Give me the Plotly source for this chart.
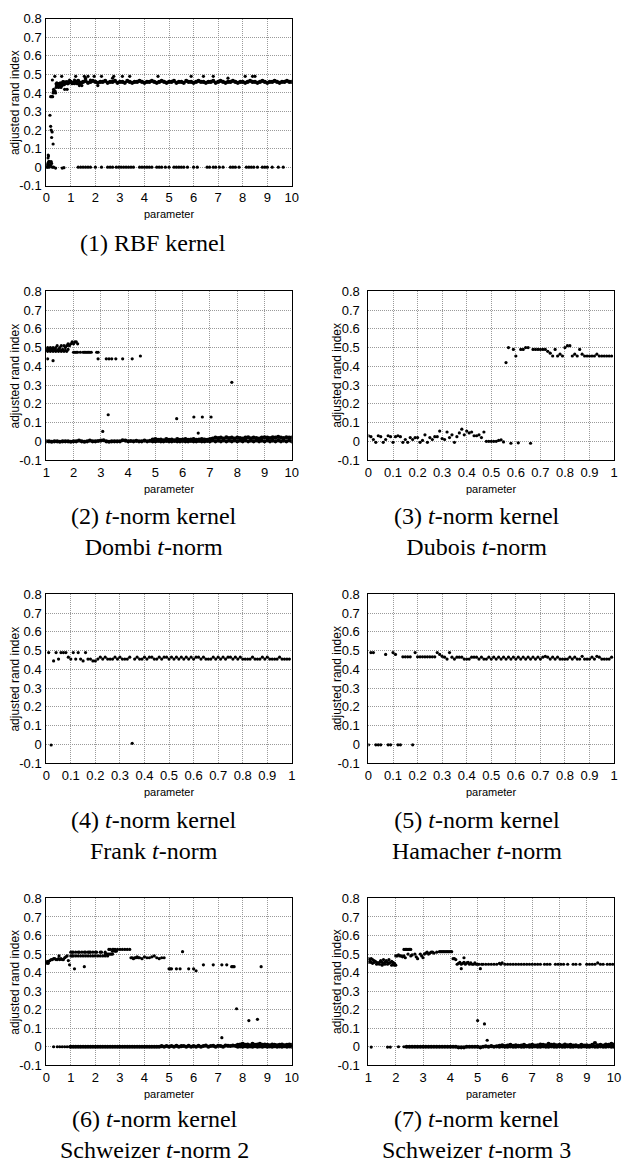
import plotly.graph_objects as go

# ---------------- shared parameter grids ----------------
PARAM_GRID = [1.0, 1.1, 1.2, 1.3, 1.4, 1.5, 1.6, 1.7, 1.8, 1.9,
              2.0, 2.1, 2.2, 2.3, 2.4, 2.5, 2.6, 2.7, 2.8, 2.9,
              3.0, 3.1, 3.2, 3.3, 3.4, 3.5, 3.6, 3.7, 3.8, 3.9,
              4.0, 4.1, 4.2, 4.3, 4.4, 4.5, 4.6, 4.7, 4.8, 4.9,
              5.0, 5.1, 5.2, 5.3, 5.4, 5.5, 5.6, 5.7, 5.8, 5.9,
              6.0, 6.1, 6.2, 6.3, 6.4, 6.5, 6.6, 6.7, 6.8, 6.9,
              7.0, 7.1, 7.2, 7.3, 7.4, 7.5, 7.6, 7.7, 7.8, 7.9,
              8.0, 8.1, 8.2, 8.3, 8.4, 8.5, 8.6, 8.7, 8.8, 8.9,
              9.0, 9.1, 9.2, 9.3, 9.4, 9.5, 9.6, 9.7, 9.8, 9.9,
              10.0]
UNIT_GRID = [0.00, 0.01, 0.02, 0.03, 0.04, 0.05, 0.06, 0.07, 0.08, 0.09,
             0.10, 0.11, 0.12, 0.13, 0.14, 0.15, 0.16, 0.17, 0.18, 0.19,
             0.20, 0.21, 0.22, 0.23, 0.24, 0.25, 0.26, 0.27, 0.28, 0.29,
             0.30, 0.31, 0.32, 0.33, 0.34, 0.35, 0.36, 0.37, 0.38, 0.39,
             0.40, 0.41, 0.42, 0.43, 0.44, 0.45, 0.46, 0.47, 0.48, 0.49,
             0.50, 0.51, 0.52, 0.53, 0.54, 0.55, 0.56, 0.57, 0.58, 0.59,
             0.60, 0.61, 0.62, 0.63, 0.64, 0.65, 0.66, 0.67, 0.68, 0.69,
             0.70, 0.71, 0.72, 0.73, 0.74, 0.75, 0.76, 0.77, 0.78, 0.79,
             0.80, 0.81, 0.82, 0.83, 0.84, 0.85, 0.86, 0.87, 0.88, 0.89,
             0.90, 0.91, 0.92, 0.93, 0.94, 0.95, 0.96, 0.97, 0.98, 0.99]

Y_TICKS = [-0.1, 0.0, 0.1, 0.2, 0.3, 0.4, 0.5, 0.6, 0.7, 0.8]
Y_TICK_TEXT = ["-0.1", "0", "0.1", "0.2", "0.3", "0.4", "0.5", "0.6", "0.7", "0.8"]

# ---------------- (1) RBF kernel ----------------
p1_low_x = [0.02, 0.04, 0.05, 0.06, 0.07, 0.08, 0.09, 0.10, 0.11, 0.12,
            0.13, 0.15, 0.17, 0.20, 0.22, 0.25, 0.30, 0.38, 0.65, 0.72]
p1_low_y = [0.00, 0.01, 0.00, 0.02, 0.05, 0.065, 0.06, 0.03, 0.01, 0.00,
            0.03, 0.025, 0.01, 0.03, 0.02, 0.00, 0.00, -0.005, -0.005, -0.003]
p1_rise_x = [0.15, 0.18, 0.20, 0.22, 0.24, 0.28, 0.18, 0.22, 0.26, 0.28,
             0.30, 0.33, 0.36, 0.38, 0.25, 0.35, 0.30, 0.40, 0.42, 0.45,
             0.48, 0.50, 0.53, 0.55, 0.58, 0.60, 0.63, 0.65, 0.68, 0.70,
             0.72, 0.75, 0.78, 0.80, 0.85, 0.88, 0.90, 0.95, 1.05, 1.15,
             1.20, 1.25, 1.35, 1.45, 1.55, 1.60, 1.70, 1.80, 1.95, 2.10,
             2.25, 2.70, 2.75, 3.10, 3.40, 4.55, 5.90, 6.40, 6.80, 7.40,
             8.10, 8.40, 8.50]
p1_rise_y = [0.28, 0.22, 0.20, 0.16, 0.19, 0.125, 0.38, 0.38, 0.38, 0.40,
             0.41, 0.405, 0.41, 0.40, 0.47, 0.49, 0.42, 0.43, 0.44, 0.45,
             0.44, 0.43, 0.45, 0.44, 0.45, 0.43, 0.49, 0.44, 0.46, 0.45,
             0.46, 0.42, 0.45, 0.46, 0.42, 0.45, 0.46, 0.47, 0.45, 0.47,
             0.49, 0.45, 0.44, 0.44, 0.49, 0.48, 0.49, 0.47, 0.49, 0.44,
             0.49, 0.48, 0.49, 0.49, 0.49, 0.49, 0.49, 0.49, 0.49, 0.48,
             0.49, 0.49, 0.49]
p1_knee_x = [0.40, 0.45, 0.50, 0.55, 0.60, 0.65, 0.70, 0.75, 0.80, 0.85,
             0.90, 0.95, 0.43, 0.47, 0.52, 0.57, 0.62, 0.67, 0.73, 0.78,
             0.83, 0.88, 0.93, 0.98, 1.05, 1.15, 1.25, 1.35, 1.45]
p1_knee_y = [0.45, 0.44, 0.45, 0.45, 0.44, 0.45, 0.46, 0.45, 0.455, 0.46,
             0.455, 0.46, 0.455, 0.45, 0.44, 0.455, 0.45, 0.46, 0.445, 0.455,
             0.46, 0.45, 0.455, 0.46, 0.455, 0.45, 0.455, 0.45, 0.455]
p1_band_y = [0.46, 0.455, 0.46, 0.465, 0.455, 0.46, 0.465, 0.455, 0.46, 0.465,
             0.46, 0.455, 0.46, 0.46, 0.465, 0.455, 0.46, 0.46, 0.465, 0.455,
             0.46, 0.46, 0.455, 0.465, 0.46, 0.455, 0.46, 0.46, 0.465, 0.46,
             0.455, 0.46, 0.46, 0.465, 0.46, 0.455, 0.46, 0.465, 0.46, 0.455,
             0.46, 0.46, 0.465, 0.455, 0.46, 0.46, 0.455, 0.465, 0.46, 0.46,
             0.455, 0.46, 0.465, 0.46, 0.46, 0.455, 0.46, 0.46, 0.465, 0.455,
             0.46, 0.465, 0.46, 0.455, 0.46, 0.46, 0.465, 0.46, 0.455, 0.46,
             0.46, 0.455, 0.46, 0.465, 0.46, 0.46, 0.455, 0.46, 0.465, 0.46,
             0.455, 0.46, 0.46, 0.465, 0.46, 0.455, 0.46, 0.46, 0.465, 0.46,
             0.46]
p1_zero_x = [1.3, 1.4, 1.5, 1.6, 1.7, 1.8, 2.0, 2.25, 2.5, 2.6,
             2.7, 2.85, 2.95, 3.05, 3.15, 3.25, 3.35, 3.45, 3.55, 3.8,
             3.9, 4.0, 4.1, 4.2, 4.3, 4.5, 4.6, 4.7, 4.85, 5.0,
             5.2, 5.3, 5.4, 5.5, 5.6, 5.75, 6.0, 6.15, 6.55, 6.65,
             6.8, 6.9, 7.05, 7.2, 7.5, 7.6, 7.7, 7.85, 8.15, 8.25,
             8.35, 8.45, 8.6, 8.8, 8.9, 9.0, 9.2, 9.45, 9.65]
p1_zero_y = [0.0, 0.0, 0.0, 0.0, 0.0, 0.0, 0.0, 0.0, 0.0, 0.0,
             0.0, 0.0, 0.0, 0.0, 0.0, 0.0, 0.0, 0.0, 0.0, 0.0,
             0.0, 0.0, 0.0, 0.0, 0.0, 0.0, 0.0, 0.0, 0.0, 0.0,
             0.0, 0.0, 0.0, 0.0, 0.0, 0.0, 0.0, 0.0, 0.0, 0.0,
             0.0, 0.0, 0.0, 0.0, 0.0, 0.0, 0.0, 0.0, 0.0, 0.0,
             0.0, 0.0, 0.0, 0.0, 0.0, 0.0, 0.0, 0.0, 0.0]

# ---------------- (2) Dombi t-norm ----------------
p2_top_x = [1.00, 1.05, 1.10, 1.15, 1.20, 1.25, 1.30, 1.35, 1.40, 1.45,
            1.50, 1.55, 1.60, 1.65, 1.70, 1.75, 1.80, 1.85, 1.90, 1.95,
            2.00, 2.05, 2.10, 2.15, 1.00, 1.05, 1.10, 1.15, 1.20, 1.25,
            1.30, 1.35, 1.40, 1.45, 1.50, 1.55, 1.60, 1.65, 1.70, 1.75,
            1.80, 2.00, 2.05, 2.10, 2.15, 2.25, 2.35, 2.40, 2.45, 2.50,
            2.55, 2.60, 2.65, 2.85, 2.90]
p2_top_y = [0.49, 0.50, 0.49, 0.50, 0.49, 0.50, 0.49, 0.50, 0.51, 0.49,
            0.50, 0.51, 0.49, 0.51, 0.50, 0.51, 0.52, 0.51, 0.52, 0.53,
            0.52, 0.53, 0.53, 0.52, 0.485, 0.48, 0.485, 0.48, 0.485, 0.48,
            0.485, 0.48, 0.485, 0.48, 0.485, 0.48, 0.485, 0.48, 0.485, 0.48,
            0.49, 0.475, 0.475, 0.475, 0.475, 0.475, 0.475, 0.475, 0.475, 0.475,
            0.475, 0.475, 0.475, 0.475, 0.475]
p2_mid_x = [1.05, 1.25, 2.90, 3.20, 3.30, 3.40, 3.55, 3.80, 4.15, 4.45]
p2_mid_y = [0.44, 0.43, 0.44, 0.44, 0.44, 0.44, 0.44, 0.44, 0.44, 0.455]
p2_out_x = [3.07, 3.27, 5.78, 6.41, 6.57, 6.72, 7.04, 7.80]
p2_out_y = [0.053, 0.142, 0.121, 0.13, 0.044, 0.13, 0.13, 0.315]
p2_base_y = [0.0, 0.0, -0.002, 0.0, 0.0, -0.002, 0.0, 0.0, 0.0, -0.002,
             0.0, 0.0, 0.004, 0.0, -0.002, 0.0, 0.004, 0.0, 0.0, 0.002,
             0.004, 0.006, 0.0, -0.002, 0.0, 0.0, 0.0, 0.0, 0.006, 0.004,
             0.0, 0.002, 0.0, 0.003, 0.0, 0.0, 0.004, 0.0, 0.003, 0.01,
             0.012, 0.008, 0.01, 0.005, 0.012, 0.008, 0.01, 0.006, 0.012, 0.008,
             0.01, 0.012, 0.008, 0.01, 0.012, 0.008, 0.01, 0.012, 0.01, 0.008,
             0.012, 0.015, 0.02, 0.018, 0.02, 0.015, 0.022, 0.018, 0.02, 0.015,
             0.02, 0.018, 0.015, 0.02, 0.022, 0.016, 0.02, 0.018, 0.015, 0.02,
             0.022, 0.02, 0.018, 0.022, 0.02, 0.024, 0.02, 0.018, 0.022, 0.02,
             0.02]
p2_base2_y = [0.0, 0.0, 0.002, 0.0, 0.0, 0.002, 0.0, 0.0, 0.002, 0.0,
              0.0, 0.002, 0.0, 0.0, 0.002, 0.0, 0.0, 0.002, 0.0, 0.0,
              0.002, 0.0, 0.005, 0.0, 0.004, 0.0, 0.005, 0.0, 0.004, 0.0,
              0.005, 0.0, 0.004, 0.0, 0.005, 0.0, 0.004, 0.0, 0.005, 0.0,
              0.004, 0.0, 0.005, 0.0, 0.004, 0.0, 0.005, 0.0, 0.004, 0.0,
              0.005, 0.0]

# ---------------- (3) Dubois t-norm ----------------
p3_low_y = [0.03, 0.025, 0.01, -0.005, 0.03, 0.025, -0.005, 0.01, 0.03, 0.025,
            -0.005, 0.025, 0.03, 0.025, -0.005, 0.01, -0.005, 0.02, 0.01, 0.02,
            0.02, -0.005, 0.005, 0.035, -0.005, 0.02, 0.01, 0.025, 0.025, 0.055,
            0.015, 0.01, 0.05, 0.02, 0.035, -0.005, 0.025, 0.045, 0.065, 0.035,
            0.055, 0.045, 0.05, 0.03, 0.03, 0.035, 0.02, 0.05]
p3_flat_y = [0.0, 0.0, 0.0, 0.0, 0.0, 0.005, 0.008, -0.003]
p3_dip_x = [0.58, 0.61, 0.66]
p3_dip_y = [-0.01, -0.008, -0.01]
p3_up_x = [0.56, 0.57, 0.59, 0.60, 0.62, 0.63, 0.64, 0.65,
           0.67, 0.68, 0.69, 0.70, 0.71, 0.72, 0.73, 0.74, 0.75, 0.76,
           0.77, 0.78, 0.79, 0.80, 0.81, 0.82, 0.83, 0.84, 0.85, 0.86,
           0.87, 0.88, 0.89, 0.90, 0.91, 0.92, 0.93, 0.94, 0.95, 0.96,
           0.97, 0.98, 0.99]
p3_up_y = [0.42, 0.50, 0.49, 0.455, 0.49, 0.49, 0.50, 0.50,
           0.49, 0.49, 0.49, 0.49, 0.49, 0.49, 0.48, 0.47, 0.455, 0.49,
           0.455, 0.465, 0.455, 0.50, 0.51, 0.51, 0.455, 0.465, 0.455, 0.49,
           0.465, 0.455, 0.455, 0.455, 0.455, 0.455, 0.465, 0.455, 0.455, 0.455,
           0.455, 0.455, 0.455]

# ---------------- (4) Frank t-norm ----------------
p4_y = [0.49, -0.003, 0.445, 0.49, 0.455, 0.49, 0.49, 0.49, 0.465, 0.455,
        0.49, 0.455, 0.49, 0.455, 0.445, 0.49, 0.455, 0.455, 0.445, 0.445,
        0.455, 0.465, 0.455, 0.465, 0.455, 0.455, 0.455, 0.465, 0.455, 0.465,
        0.455, 0.455, 0.455, 0.465, 0.006, 0.455, 0.465, 0.455, 0.455, 0.465,
        0.455, 0.465, 0.465, 0.455, 0.455, 0.465, 0.455, 0.465, 0.465, 0.455,
        0.465, 0.455, 0.465, 0.455, 0.465, 0.455, 0.465, 0.455, 0.465, 0.455,
        0.465, 0.465, 0.455, 0.465, 0.455, 0.455, 0.455, 0.465, 0.455, 0.465,
        0.455, 0.465, 0.455, 0.465, 0.465, 0.455, 0.465, 0.455, 0.465, 0.455,
        0.455, 0.455, 0.455, 0.465, 0.455, 0.455, 0.455, 0.465, 0.455, 0.465,
        0.455, 0.455, 0.455, 0.455, 0.465, 0.455, 0.455, 0.455, 0.455]

# ---------------- (5) Hamacher t-norm ----------------
p5_y = [-0.002, 0.49, 0.49, -0.002, -0.002, -0.002,
        0.48, -0.002, -0.002, 0.49, 0.48, -0.002, -0.002, 0.467, 0.467, 0.467,
        0.467, -0.002, 0.49, 0.467, 0.467, 0.467, 0.467, 0.467, 0.467, 0.467,
        0.467, 0.49, 0.48, 0.47, 0.465, 0.455, 0.49, 0.465, 0.455, 0.465,
        0.465, 0.465, 0.455, 0.455, 0.455, 0.465, 0.465, 0.465, 0.455, 0.465,
        0.455, 0.455, 0.465, 0.455, 0.465, 0.455, 0.465, 0.455, 0.465, 0.455,
        0.465, 0.455, 0.465, 0.455, 0.465, 0.455, 0.465, 0.455, 0.465, 0.455,
        0.465, 0.455, 0.465, 0.455, 0.465, 0.47, 0.465, 0.455, 0.465, 0.455,
        0.465, 0.455, 0.455, 0.455, 0.455, 0.465, 0.455, 0.465, 0.455, 0.455,
        0.47, 0.455, 0.455, 0.455, 0.465, 0.455, 0.47, 0.465, 0.455, 0.455,
        0.455, 0.455, 0.465]

# ---------------- (6) Schweizer t-norm 2 ----------------
p6_top_x = [0.00, 0.02, 0.03, 0.06, 0.08, 0.10, 0.15, 0.20, 0.25, 0.30,
            0.35, 0.40, 0.45, 0.50, 0.55, 0.60, 0.65, 0.70, 0.52, 0.75,
            0.80, 0.85, 0.90, 0.95, 1.00, 1.15, 1.55, 1.00, 1.05, 1.10,
            1.20, 1.30, 1.35, 1.45, 1.55, 1.60, 1.70, 1.75, 1.80, 1.90,
            2.00, 2.05, 2.20, 2.25, 2.40, 1.05, 1.10, 1.20, 1.30, 1.40,
            1.50, 1.60, 1.70, 1.80, 1.90, 2.00, 2.10, 2.20, 2.30, 2.40,
            2.50, 2.40, 2.45, 2.50, 2.55, 2.60, 2.65, 2.70, 2.55, 2.60,
            2.70, 2.75, 2.80, 2.90, 3.00, 3.10, 3.20, 3.30, 3.40, 2.70,
            2.80, 2.85, 3.45, 3.50, 3.55, 3.60, 3.65, 3.70, 3.75, 3.80,
            3.90, 4.00, 4.10, 4.20, 4.30, 4.50, 4.60, 4.70, 4.80, 4.40,
            5.55, 5.00, 5.05, 5.10, 5.30, 5.45, 5.80, 6.00, 6.10, 6.40,
            6.80, 7.15, 7.35, 7.55, 7.60, 7.65, 8.75, 7.75, 8.25, 8.60,
            7.15]
p6_top_y = [0.455, 0.45, 0.46, 0.455, 0.45, 0.46, 0.465, 0.47, 0.47, 0.475,
            0.475, 0.47, 0.47, 0.475, 0.47, 0.475, 0.47, 0.47, 0.49, 0.48,
            0.485, 0.49, 0.465, 0.442, 0.49, 0.42, 0.432, 0.51, 0.51, 0.51,
            0.51, 0.51, 0.51, 0.51, 0.51, 0.51, 0.51, 0.51, 0.51, 0.51,
            0.51, 0.51, 0.51, 0.51, 0.51, 0.49, 0.49, 0.49, 0.49, 0.49,
            0.49, 0.49, 0.49, 0.49, 0.49, 0.49, 0.49, 0.49, 0.49, 0.49,
            0.49, 0.50, 0.50, 0.50, 0.50, 0.50, 0.50, 0.50, 0.525, 0.525,
            0.525, 0.525, 0.525, 0.525, 0.525, 0.525, 0.525, 0.525, 0.525, 0.515,
            0.515, 0.515, 0.48, 0.48, 0.475, 0.48, 0.48, 0.485, 0.48, 0.48,
            0.475, 0.485, 0.48, 0.48, 0.485, 0.48, 0.475, 0.48, 0.48, 0.49,
            0.513, 0.42, 0.42, 0.42, 0.42, 0.42, 0.42, 0.42, 0.41, 0.442,
            0.442, 0.442, 0.442, 0.432, 0.432, 0.432, 0.432, 0.205, 0.141, 0.148,
            0.049]
p6_head_x = [0.30, 0.45, 0.55, 0.65, 0.75, 0.85, 0.95]
p6_head_y = [0.0, 0.0, 0.0, 0.0, 0.0, 0.0, 0.0]
p6_base_y = [0.0, 0.0, 0.0, 0.0, 0.0, 0.0, 0.0, 0.0, 0.0, 0.0,
             0.0, 0.0, 0.0, 0.0, 0.0, 0.0, 0.0, 0.0, 0.0, 0.0,
             0.0, 0.0, 0.0, 0.0, 0.0, 0.0, 0.0, 0.0, 0.0, 0.0,
             0.0, 0.0, 0.0, 0.0, 0.0, 0.0, 0.0, 0.003, 0.0, 0.004,
             0.0, 0.004, 0.0, 0.005, 0.0, 0.003, 0.004, 0.0, 0.005, 0.0,
             0.004, 0.0, 0.005, 0.0, 0.004, 0.006, 0.0, 0.004, 0.005, 0.0,
             0.005, 0.004, 0.0, 0.006, 0.005, 0.004, 0.006, 0.005, 0.01, 0.012,
             0.015, 0.01, 0.012, 0.008, 0.015, 0.01, 0.012, 0.015, 0.01, 0.012,
             0.01, 0.008, 0.012, 0.01, 0.008, 0.01, 0.012, 0.008, 0.01, 0.012,
             0.01]
p6_base2_y = [0.0, 0.002, 0.0, 0.003, 0.0, 0.002, 0.0, 0.003, 0.0, 0.002,
              0.0, 0.003, 0.0, 0.002, 0.0, 0.003, 0.0, 0.002, 0.0, 0.003,
              0.0, 0.002, 0.0]

# ---------------- (7) Schweizer t-norm 3 ----------------
p7_top_x = [1.00, 1.05, 1.10, 1.15, 1.20, 1.25, 1.30, 1.35, 1.40, 1.45,
            1.50, 1.55, 1.60, 1.65, 1.70, 1.75, 1.80, 1.85, 1.90, 1.95,
            1.00, 1.05, 1.10, 1.15, 1.20, 1.45, 1.55, 1.65, 1.75, 1.30,
            1.40, 1.50, 1.60, 1.70, 1.85, 1.90, 1.95, 2.00, 2.00, 2.05,
            2.10, 2.15, 2.20, 2.25, 2.30, 2.30, 2.35, 2.40, 2.45, 2.50,
            2.55, 2.35, 2.45, 2.55, 2.60, 2.70, 2.75, 2.80, 2.90, 2.95,
            3.00, 3.05, 3.10, 3.15, 3.20, 3.25, 3.30, 3.35, 3.40, 3.50,
            3.60, 3.65, 3.70, 3.75, 3.80, 3.85, 3.90, 3.95, 4.00, 4.05,
            4.10, 4.15, 4.20, 4.40, 4.50, 5.10, 5.00, 5.25, 5.35]
p7_top_y = [0.455, 0.46, 0.455, 0.45, 0.455, 0.46, 0.455, 0.45, 0.455, 0.46,
            0.455, 0.45, 0.455, 0.46, 0.455, 0.45, 0.455, 0.46, 0.455, 0.45,
            0.475, 0.47, 0.475, 0.47, 0.465, 0.465, 0.47, 0.465, 0.47, 0.445,
            0.445, 0.44, 0.445, 0.445, 0.44, 0.445, 0.44, 0.44, 0.49, 0.49,
            0.495, 0.49, 0.49, 0.485, 0.49, 0.525, 0.525, 0.525, 0.525, 0.525,
            0.525, 0.48, 0.50, 0.49, 0.495, 0.50, 0.485, 0.475, 0.50, 0.49,
            0.48, 0.50, 0.505, 0.51, 0.50, 0.505, 0.51, 0.51, 0.505, 0.51,
            0.513, 0.513, 0.513, 0.513, 0.513, 0.513, 0.513, 0.513, 0.513, 0.513,
            0.475, 0.475, 0.47, 0.421, 0.48, 0.421, 0.141, 0.123, 0.035]
p7_mid_x = [4.25, 4.30, 4.35, 4.40, 4.45, 4.50, 4.55, 4.60, 4.65, 4.70,
            4.75, 4.80, 4.85, 4.90, 4.95, 5.00, 5.05, 5.15, 5.20, 5.30,
            5.40, 5.50, 5.60, 5.70, 5.80, 5.85, 5.90, 6.00, 6.10, 6.20,
            6.30, 6.40, 6.50, 6.60, 6.70, 6.80, 6.90, 7.00, 7.10, 7.20,
            7.30, 7.45, 7.55, 7.65, 7.85, 7.95, 8.05, 8.15, 8.30, 8.50,
            8.60, 8.75, 9.00, 9.10, 9.20, 9.30, 9.40, 9.50, 9.60, 9.75,
            9.85, 9.95]
p7_mid_y = [0.445, 0.45, 0.455, 0.445, 0.45, 0.455, 0.445, 0.452, 0.455, 0.445,
            0.452, 0.445, 0.445, 0.452, 0.445, 0.445, 0.445, 0.445, 0.445, 0.445,
            0.445, 0.445, 0.445, 0.445, 0.45, 0.445, 0.452, 0.445, 0.445, 0.445,
            0.445, 0.445, 0.445, 0.445, 0.445, 0.445, 0.445, 0.445, 0.445, 0.445,
            0.445, 0.445, 0.445, 0.445, 0.445, 0.445, 0.445, 0.445, 0.445, 0.445,
            0.445, 0.445, 0.445, 0.445, 0.445, 0.445, 0.452, 0.445, 0.445, 0.445,
            0.445, 0.445]
p7_head_x = [1.1, 1.7, 1.8, 2.1, 2.3]
p7_head_y = [-0.002, -0.002, -0.002, 0.0, 0.0]
p7_base_y = [0.0, 0.0, 0.0, 0.0, 0.0, 0.0, 0.0, 0.0, 0.0, 0.0,
             0.0, 0.0, 0.0, 0.0, 0.0, 0.0, 0.0, 0.0, 0.0, -0.003,
             -0.003, -0.003, 0.0, 0.0, 0.0, 0.0, 0.0, -0.003, 0.0, 0.002,
             0.0, 0.003, 0.0, 0.002, 0.005, 0.008, 0.004, 0.006, 0.01, 0.005,
             0.008, 0.005, 0.006, 0.01, 0.004, 0.008, 0.01, 0.006, 0.008, 0.012,
             0.01, 0.008, 0.015, 0.01, 0.012, 0.008, 0.01, 0.006, 0.012, 0.008,
             0.01, 0.006, 0.008, 0.004, 0.01, 0.006, 0.008, 0.005, 0.01, 0.02,
             0.008, 0.01, 0.006, 0.012, 0.01, 0.015, 0.012]
p7_base2_y = [0.0, 0.002, 0.0, 0.0, 0.002, 0.0, 0.0, 0.002, 0.0, 0.0,
              0.002, 0.0, 0.0, 0.002, 0.0, 0.0, 0.002, 0.0, 0.0, 0.002,
              0.0, 0.0, 0.002, 0.0, 0.0, 0.002, 0.0, 0.0, 0.002, 0.0,
              0.0, 0.002, 0.0, 0.0, 0.002, 0.0, 0.0, 0.002, 0.0, 0.0,
              0.002, 0.0, 0.0]

CAPTIONS = [
    "(1) RBF kernel",
    "(2) <i>t</i>-norm kernel<br>Dombi <i>t</i>-norm",
    "(3) <i>t</i>-norm kernel<br>Dubois <i>t</i>-norm",
    "(4) <i>t</i>-norm kernel<br>Frank <i>t</i>-norm",
    "(5) <i>t</i>-norm kernel<br>Hamacher <i>t</i>-norm",
    "(6) <i>t</i>-norm kernel<br>Schweizer <i>t</i>-norm 2",
    "(7) <i>t</i>-norm kernel<br>Schweizer <i>t</i>-norm 3",
]
X_TITLE = "parameter"
Y_TITLE = "adjusted rand index"

# series per panel: (x, y, dense-band flag)
panel_series = [
    [(p1_low_x, p1_low_y, False), (p1_rise_x, p1_rise_y, False),
     (p1_knee_x, p1_knee_y, False), (PARAM_GRID, p1_band_y, True),
     (p1_zero_x, p1_zero_y, False)],
    [(p2_top_x, p2_top_y, False), (p2_mid_x, p2_mid_y, False),
     (p2_out_x, p2_out_y, False), (PARAM_GRID, p2_base_y, True),
     (PARAM_GRID[39:], p2_base2_y, True)],
    [(UNIT_GRID[:48], p3_low_y, False), (UNIT_GRID[48:56], p3_flat_y, False),
     (p3_dip_x, p3_dip_y, False), (p3_up_x, p3_up_y, False)],
    [(UNIT_GRID[1:], p4_y, False)],
    [(UNIT_GRID[:6] + UNIT_GRID[7:], p5_y, False)],
    [(p6_top_x, p6_top_y, False), (p6_head_x, p6_head_y, False),
     (PARAM_GRID, p6_base_y, True), (PARAM_GRID[68:], p6_base2_y, True)],
    [(p7_top_x, p7_top_y, False), (p7_mid_x, p7_mid_y, False),
     (p7_head_x, p7_head_y, False), (PARAM_GRID[14:], p7_base_y, True),
     (PARAM_GRID[48:], p7_base2_y, True)],
]
for i, ser in enumerate(panel_series):
    for j, (xs, ys, _) in enumerate(ser):
        assert len(xs) == len(ys), f"panel {i+1} series {j}: {len(xs)} vs {len(ys)}"

# ---------------- layout geometry (pixels) ----------------
W, H = 625, 1171
COLS = [(43, 293), (371, 621)]
ROWS = [(12, 181), (288, 459), (595, 766), (903, 1072)]
# (col, row, x-range, x dtick, caption centre x, caption centre y)
PANELS = [
    (0, 0, [0, 10], 1, 152, 239),
    (0, 1, [1, 10], 1, 153, 531),
    (1, 1, [0, 1], 0.1, 481, 531),
    (0, 2, [0, 1], 0.1, 153, 839),
    (1, 2, [0, 1], 0.1, 481, 839),
    (0, 3, [0, 10], 1, 153, 1142),
    (1, 3, [1, 10], 1, 481, 1142),
]


def px_x(p):
    return p / W


def px_y(p):
    return 1 - p / H


fig = go.Figure()
annotations = []
SANS = "Liberation Sans, Arial, sans-serif"
TICK_FONT = dict(family=SANS, size=13, color="black")
for k, (c, r, xr, dt, capx, capy) in enumerate(PANELS):
    n = k + 1
    suffix = "" if n == 1 else str(n)
    x0, x1 = COLS[c]
    y0, y1 = ROWS[r]
    for xs, ys, dense in panel_series[k]:
        fig.add_trace(go.Scatter(
            x=xs, y=ys, mode="markers",
            marker=dict(size=(4.2 if dense else 3.2), color="black", line=dict(width=0)),
            xaxis="x" + suffix, yaxis="y" + suffix, showlegend=False,
            hoverinfo="x+y"))
    common = dict(showgrid=True, gridcolor="#9a9a9a", griddash="1px,1px", gridwidth=1,
                  showline=True, linecolor="black", linewidth=1, mirror=True,
                  zeroline=False, ticks="", tickfont=TICK_FONT, fixedrange=True)
    fig.layout["xaxis" + suffix] = dict(
        domain=[px_x(x0), px_x(x1)], range=xr, tick0=0, dtick=dt,
        anchor="y" + suffix, **common)
    fig.layout["yaxis" + suffix] = dict(
        domain=[px_y(y1), px_y(y0)], range=[-0.1, 0.8],
        tickvals=Y_TICKS, ticktext=Y_TICK_TEXT,
        anchor="x" + suffix, ticklabelstandoff=(1 if c == 0 else 5), **common)
    # axis titles
    annotations.append(dict(
        text=X_TITLE, xref="paper", yref="paper",
        x=px_x((x0 + x1) / 2), y=px_y(y1 + 29), xanchor="center", yanchor="middle",
        showarrow=False, font=dict(family=SANS, size=11, color="black")))
    annotations.append(dict(
        text=Y_TITLE, xref="paper", yref="paper", textangle=-90,
        x=px_x(x0 - 32), y=px_y((y0 + y1) / 2), xanchor="center", yanchor="middle",
        showarrow=False, font=dict(family=SANS, size=12, color="black")))
    annotations.append(dict(
        text=CAPTIONS[k], xref="paper", yref="paper",
        x=px_x(capx), y=px_y(capy), xanchor="center", yanchor="middle",
        showarrow=False, align="center",
        font=dict(family="Liberation Serif", size=24, color="black")))

fig.update_layout(
    width=W, height=H, margin=dict(l=0, r=0, t=0, b=0),
    paper_bgcolor="white", plot_bgcolor="white",
    annotations=annotations, showlegend=False)

fig.write_html("out.html")
